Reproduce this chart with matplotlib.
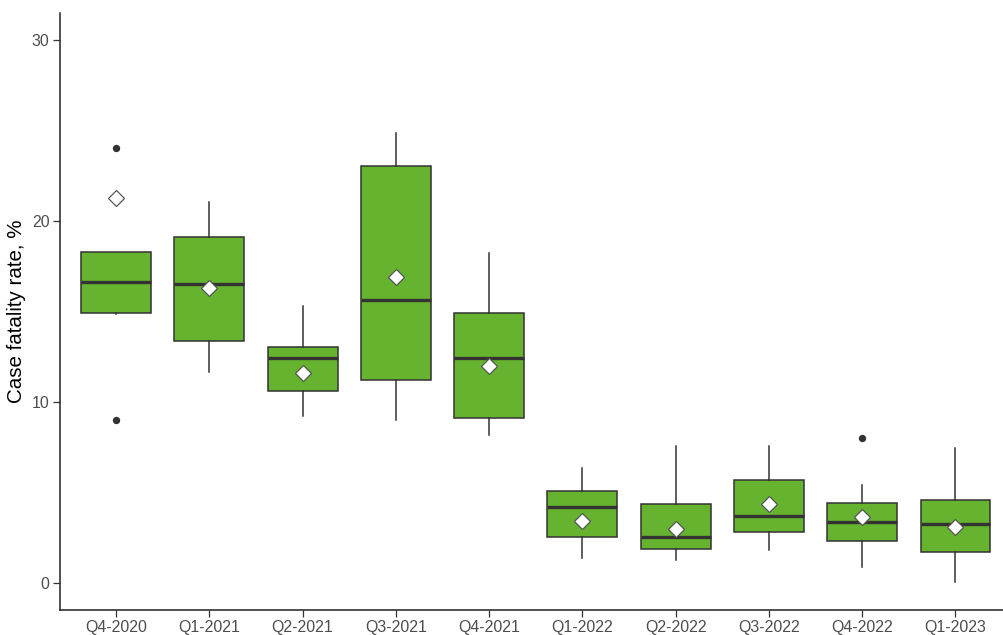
import matplotlib
matplotlib.use("Agg")
import matplotlib.pyplot as plt

plt.rcParams['font.family'] = ['Liberation Sans', 'DejaVu Sans']

quarters = ["Q4-2020", "Q1-2021", "Q2-2021", "Q3-2021", "Q4-2021",
            "Q1-2022", "Q2-2022", "Q3-2022", "Q4-2022", "Q1-2023"]
whisker_low = [14.85, 11.68, 9.20, 9.03, 8.19, 1.40, 1.24, 1.80, 0.87, 0.04]
q1 = [14.90, 13.38, 10.60, 11.22, 9.10, 2.56, 1.86, 2.81, 2.32, 1.68]
median = [16.65, 16.50, 12.44, 15.64, 12.44, 4.19, 2.52, 3.70, 3.37, 3.28]
q3 = [18.27, 19.12, 13.02, 23.07, 14.94, 5.08, 4.34, 5.71, 4.44, 4.60]
whisker_high = [18.27, 21.06, 15.31, 24.89, 18.21, 6.37, 7.56, 7.56, 5.43, 7.47]
mean = [21.30, 16.30, 11.59, 16.93, 11.98, 3.42, 2.96, 4.34, 3.66, 3.11]
outliers = [[24.03, 9.03], [], [], [], [], [], [], [], [8.00], []]
y_ticks = [0, 10, 20, 30]

fill = "#65B32E"
edge = "#333333"

stats = []
for i, q in enumerate(quarters):
    stats.append(dict(label=q, whislo=whisker_low[i], q1=q1[i], med=median[i],
                      q3=q3[i], whishi=whisker_high[i], mean=mean[i],
                      fliers=outliers[i]))

fig = plt.figure(figsize=(10.04, 6.35), dpi=100)
ax = fig.add_axes([60 / 1004, 25 / 635, 944 / 1004, 597 / 635])

positions = list(range(1, len(quarters) + 1))
ax.bxp(stats, positions=positions, widths=0.75, patch_artist=True,
       showmeans=True, showcaps=False,
       boxprops=dict(facecolor=fill, edgecolor=edge, linewidth=1.1),
       medianprops=dict(color=edge, linewidth=2.4, solid_capstyle='butt'),
       whiskerprops=dict(color=edge, linewidth=1.1),
       flierprops=dict(marker='o', markerfacecolor=edge, markeredgecolor=edge,
                       markersize=4.3, linestyle='none'),
       meanprops=dict(marker='D', markerfacecolor='white', markeredgecolor='#555555',
                      markeredgewidth=0.9, markersize=8.3))

ax.set_xlim(0.4, 10.52)
ax.set_ylim(-1.5, 31.5)
ax.set_yticks(y_ticks)
ax.set_xticks(positions)
ax.set_xticklabels(quarters)

for side in ("top", "right"):
    ax.spines[side].set_visible(False)
for side in ("left", "bottom"):
    ax.spines[side].set_color("#222222")
    ax.spines[side].set_linewidth(1.1)

ax.tick_params(axis='both', colors='#333333', labelcolor='#4D4D4D',
               labelsize=11.4, length=5, width=0.9, pad=2.5)
ax.set_ylabel("Case fatality rate, %", fontsize=14.8, color='black', labelpad=4)

fig.savefig("out.png", dpi=100)
